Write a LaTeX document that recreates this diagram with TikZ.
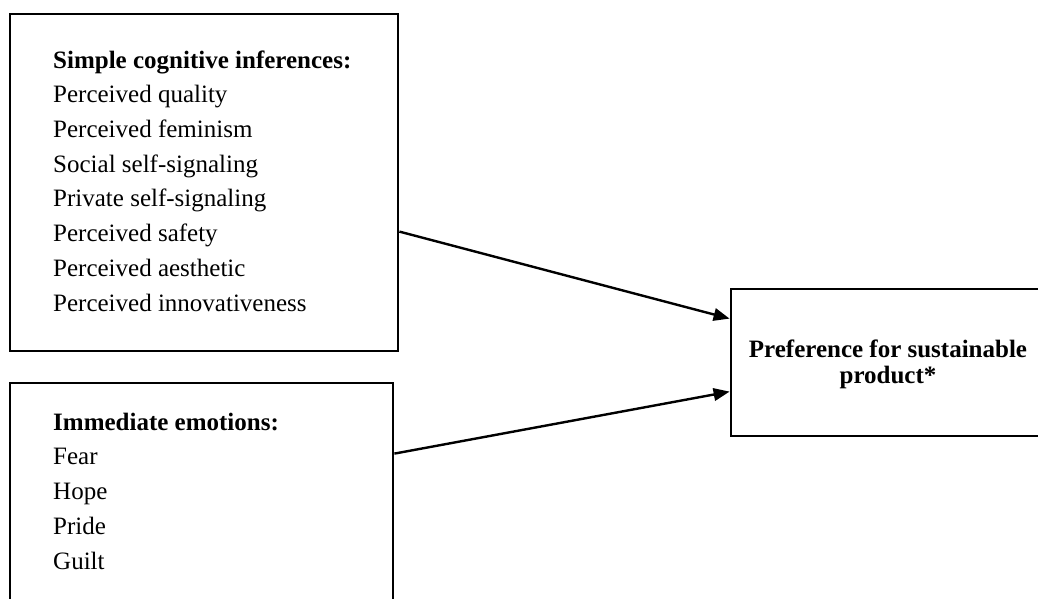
\documentclass[tikz,border=0pt]{standalone}
\usepackage{fontspec}
\setmainfont{Liberation Serif}
\usetikzlibrary{arrows.meta}
\begin{document}
\begin{tikzpicture}[x=1pt,y=1pt,
  box/.style={draw=black, line width=2.8pt, rectangle, inner sep=0pt},
  listtext/.style={align=left, inner sep=0pt, anchor=base west, font=\fontsize{25}{34.7}\selectfont},
  outtext/.style={align=center, inner sep=0pt, anchor=base, font=\fontsize{25}{26}\selectfont\bfseries},
  conn/.style={line width=2.4pt, -{Triangle[length=16pt,width=12.5pt]}}]
\useasboundingbox (0,0) rectangle (1038,-598);
\fill[white] (0,0) rectangle (1038,-598);
\clip (0,0) rectangle (1038,-598);
% boxes
\node[box, minimum width=388pt, minimum height=337pt] (b1) at (204,-182.5) {};
\node[box, minimum width=383pt, minimum height=260pt] (b2) at (201.5,-513) {};
\node[box, minimum width=314pt, minimum height=147pt] (b3) at (888,-362.5) {};
% texts (base anchor = baseline of last line)
\node[listtext] (t1) at (53,-311) {\textbf{Simple cognitive inferences:}\\Perceived quality\\Perceived feminism\\Social self-signaling\\Private self-signaling\\Perceived safety\\Perceived aesthetic\\Perceived innovativeness};
\node[listtext] (t2) at (53,-569) {\textbf{Immediate emotions:}\\Fear\\Hope\\Pride\\Guilt};
\node[outtext] (t3) at (888,-383) {Preference for sustainable\\product*};
% connectors
\draw[conn] ([yshift=-219pt]b1.north east) -- ([yshift=-31pt]b3.north west);
\draw[conn] ([yshift=-72pt]b2.north east) -- ([yshift=-104pt]b3.north west);
\end{tikzpicture}
\end{document}
